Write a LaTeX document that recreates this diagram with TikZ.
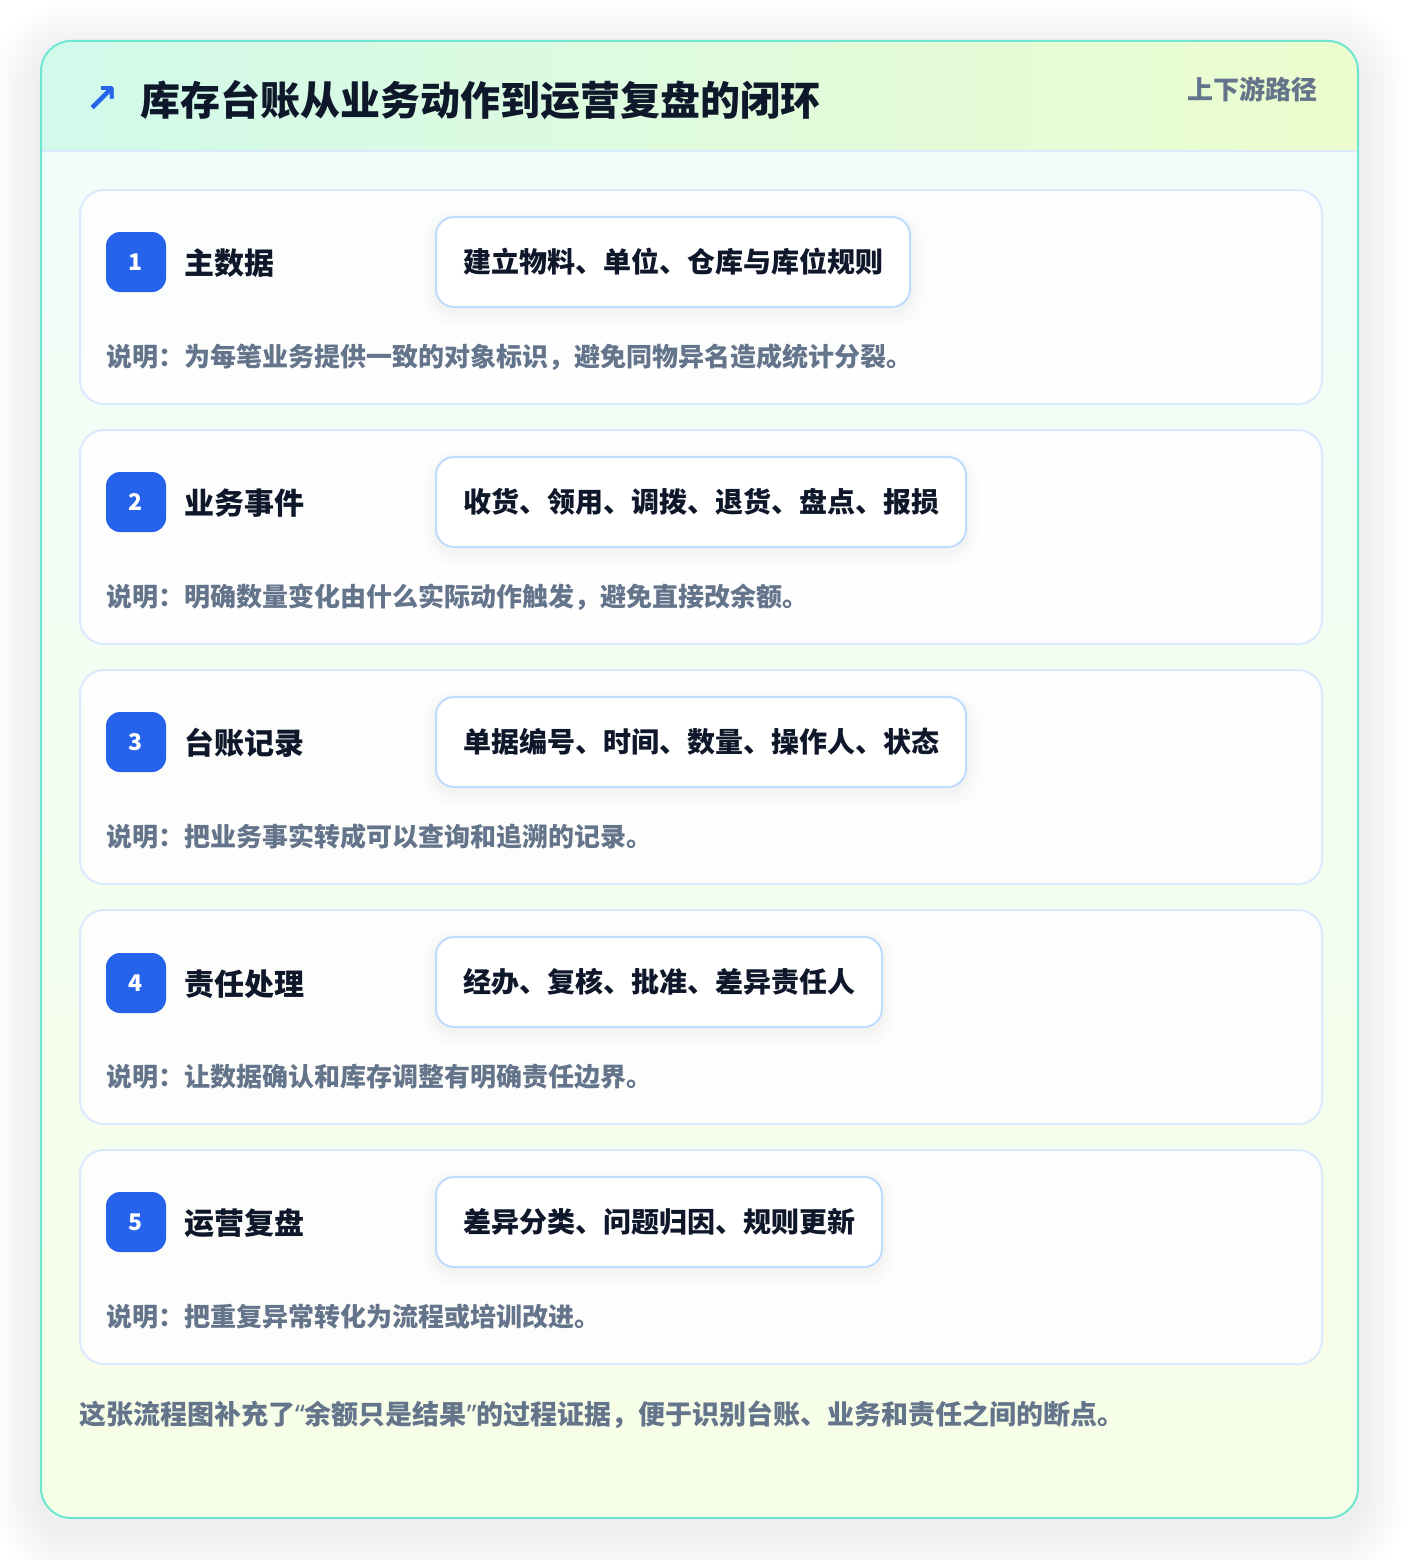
\documentclass[tikz,border=0pt]{standalone}
\usepackage{fontspec}
\setmainfont{Noto Sans CJK SC}
\newfontfamily\symfont{DejaVu Sans}
\newfontfamily\quotefont{Noto Sans}
\usepackage{xcolor}

\definecolor{ink}{RGB}{15,23,42}
\definecolor{muted}{RGB}{100,116,139}
\definecolor{badgeblue}{RGB}{37,99,235}
\definecolor{cardline}{RGB}{219,234,254}
\definecolor{pillline}{RGB}{191,219,254}
\definecolor{frameteal}{RGB}{110,231,210}
\definecolor{hdrL}{RGB}{209,250,235}
\definecolor{hdrR}{RGB}{236,252,206}
\definecolor{bodyT}{RGB}{240,253,250}
\definecolor{bodyB}{RGB}{247,254,231}

\begin{document}
\begin{tikzpicture}[x=1pt,y=-1pt,
    card/.style={draw=cardline, line width=2pt, fill=white, fill opacity=0.85,
      rounded corners=24pt, minimum width=1242pt, minimum height=214pt,
      anchor=north west, inner sep=0pt},
    badge/.style={fill=badgeblue, rounded corners=14pt, minimum size=60pt,
      inner sep=0pt, text=white, font=\fontsize{23}{26}\selectfont\bfseries},
    steptitle/.style={anchor=west, inner sep=0pt, text=ink,
      font=\fontsize{30}{36}\selectfont\bfseries},
    softshadow/.style={
      preaction={draw=black, draw opacity=0.01, line width=24pt, transform canvas={yshift=-6pt}},
      preaction={draw=black, draw opacity=0.012, line width=14pt, transform canvas={yshift=-5pt}},
      preaction={draw=black, draw opacity=0.015, line width=6pt, transform canvas={yshift=-4pt}}},
    pill/.style={softshadow, draw=pillline, line width=2pt, fill=white,
      rounded corners=18pt, minimum height=90pt, inner xsep=27pt, anchor=west,
      text=ink, font=\fontsize{28}{34}\selectfont\bfseries},
    note/.style={anchor=west, inner sep=0pt, text=muted,
      font=\fontsize{26}{30}\selectfont\bfseries}]

  \useasboundingbox (0,0) rectangle (1400,1560);
  \fill[white] (0,0) rectangle (1400,1560);

  % frame with shadow
  \foreach \w in {4,10,...,100}
    \draw[black, draw opacity=0.0035, line width=\w pt, rounded corners=30pt] (41,53) rectangle (1358,1530);
  \begin{scope}
    \clip[rounded corners=30pt] (41,41) rectangle (1358,1518);
    \shade[top color=bodyT, bottom color=bodyB] (41,41) rectangle (1358,1518);
    \shade[left color=hdrL, right color=hdrR] (41,41) rectangle (1358,151);
  \end{scope}
  \draw[cardline, line width=1.5pt] (41,151) -- (1358,151);
  \draw[frameteal, line width=2pt, rounded corners=30pt] (41,41) rectangle (1358,1518);

  % header
  \node[text=badgeblue, inner sep=0pt, font=\symfont\bfseries\fontsize{40}{44}\selectfont] (arrow) at (102,100) {↗};
  \node[anchor=west, inner sep=0pt, text=ink, font=\fontsize{40}{48}\selectfont\bfseries] (title) at (140,100) {库存台账从业务动作到运营复盘的闭环};
  \node[anchor=east, inner sep=0pt, text=muted, font=\fontsize{26}{30}\selectfont\bfseries] (tag) at (1318,89) {上下游路径};

  % step 1
  \node[card] (C1) at (79,189) {};
  \node[badge] (B1) at (136,262) {1};
  \node[steptitle] (T1) at (184,263) {主数据};
  \node[pill] (P1) at (435,262) {建立物料、单位、仓库与库位规则};
  \node[note] (D1) at (106,357) {说明：为每笔业务提供一致的对象标识，避免同物异名造成统计分裂。};

  % step 2
  \node[card] (C2) at (79,429) {};
  \node[badge] (B2) at (136,502) {2};
  \node[steptitle] (T2) at (184,503) {业务事件};
  \node[pill] (P2) at (435,502) {收货、领用、调拨、退货、盘点、报损};
  \node[note] (D2) at (106,597) {说明：明确数量变化由什么实际动作触发，避免直接改余额。};

  % step 3
  \node[card] (C3) at (79,669) {};
  \node[badge] (B3) at (136,742) {3};
  \node[steptitle] (T3) at (184,743) {台账记录};
  \node[pill] (P3) at (435,742) {单据编号、时间、数量、操作人、状态};
  \node[note] (D3) at (106,837) {说明：把业务事实转成可以查询和追溯的记录。};

  % step 4
  \node[card] (C4) at (79,909) {};
  \node[badge] (B4) at (136,983) {4};
  \node[steptitle] (T4) at (184,984) {责任处理};
  \node[pill] (P4) at (435,982) {经办、复核、批准、差异责任人};
  \node[note] (D4) at (106,1077) {说明：让数据确认和库存调整有明确责任边界。};

  % step 5
  \node[card] (C5) at (79,1149) {};
  \node[badge] (B5) at (136,1222) {5};
  \node[steptitle] (T5) at (184,1223) {运营复盘};
  \node[pill] (P5) at (435,1222) {差异分类、问题归因、规则更新};
  \node[note] (D5) at (106,1317) {说明：把重复异常转化为流程或培训改进。};

  % footer
  \node[note, font=\fontsize{27}{32}\selectfont\bfseries] (foot) at (79,1415) {这张流程图补充了{\quotefont “}余额只是结果{\quotefont ”}的过程证据，便于识别台账、业务和责任之间的断点。};
\end{tikzpicture}
\end{document}
